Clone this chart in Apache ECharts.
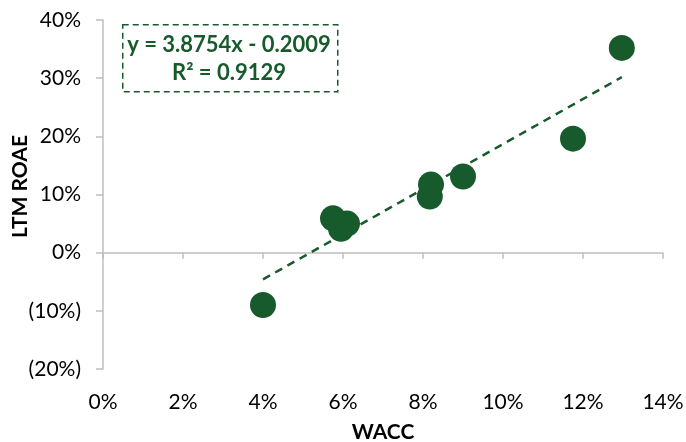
<!DOCTYPE html>
<html>
<head>
<meta charset="utf-8">
<script src="https://cdn.jsdelivr.net/npm/echarts@6/dist/echarts.min.js"></script>
<style>
  html, body { margin: 0; padding: 0; background: #fff; }
  #chart { width: 686px; height: 442px; }
</style>
</head>
<body>
<div id="chart"></div>
<script>
// WACC (%) vs LTM ROAE (%)
const waccValues = [4.0, 5.75, 5.95, 6.1, 8.17, 8.2, 9.0, 11.75, 12.97];
const roaeValues = [-9.0, 5.9, 4.1, 5.0, 9.65, 11.7, 13.1, 19.6, 35.2];
// trendline coefficients (slope, intercept in %)
const trendSlope = 3.8754;
const trendIntercept = -20.09;
const equationLines = ['y = 3.8754x - 0.2009', 'R² = 0.9129'];

const green = '#175a2c';
const font = 'Lato, "Noto Sans", sans-serif';

const points = waccValues.map((x, i) => [x, roaeValues[i]]);
const xMin = Math.min(...waccValues), xMax = Math.max(...waccValues);
const trend = [[xMin, trendSlope * xMin + trendIntercept], [xMax, trendSlope * xMax + trendIntercept]];

function pct(v) {
  return v < 0 ? '(' + Math.abs(v) + '%)' : v + '%';
}

var myChart = echarts.init(document.getElementById('chart'));

const option = {
  animation: false,
  grid: { left: 103, right: 23, top: 20, bottom: 73, outerBoundsMode: 'none', containLabel: false },
  xAxis: [
    {
      type: 'value', min: 0, max: 14, interval: 2,
      axisLine: { onZero: true, lineStyle: { color: '#bfbfbf', width: 1.5 } },
      axisTick: { show: true, length: 6, lineStyle: { color: '#bfbfbf', width: 1.5 } },
      axisLabel: { show: false },
      splitLine: { show: false }
    },
    {
      type: 'value', min: 0, max: 14, interval: 2, position: 'bottom',
      axisLine: { show: false, onZero: false },
      axisTick: { show: false },
      axisLabel: { margin: 23, fontSize: 21, color: '#000', fontFamily: font, formatter: pct },
      splitLine: { show: false },
      name: 'WACC', nameLocation: 'middle', nameGap: 53, nameMoveOverlap: false,
      nameTextStyle: { fontSize: 21, fontWeight: 'bold', color: '#000', fontFamily: font }
    }
  ],
  yAxis: {
    type: 'value', min: -20, max: 40, interval: 10,
    axisLine: { show: true, lineStyle: { color: '#bfbfbf', width: 1.5 } },
    axisTick: { show: true, length: 7, lineStyle: { color: '#bfbfbf', width: 1.5 } },
    axisLabel: { margin: 22, fontSize: 21, color: '#000', fontFamily: font, formatter: pct },
    splitLine: { show: false },
    name: 'LTM ROAE', nameLocation: 'middle', nameRotate: 90, nameGap: 72, nameMoveOverlap: false,
    nameTextStyle: { fontSize: 21, fontWeight: 'bold', color: '#000', fontFamily: font, padding: [0, 0, 0, 16] }
  },
  series: [
    {
      type: 'line', data: trend, xAxisIndex: 0, showSymbol: false, symbol: 'none',
      lineStyle: { color: green, width: 2.5, type: [8, 6] }, z: 2
    },
    {
      type: 'scatter', data: points, xAxisIndex: 0, symbolSize: 26,
      itemStyle: { color: green, opacity: 1 }, z: 3
    }
  ],
  graphic: [
    {
      type: 'rect', left: 122, top: 24,
      shape: { width: 215, height: 67 },
      style: { fill: '#fff', stroke: green, lineWidth: 1.5, lineDash: [6, 4] }
    },
    {
      type: 'text', x: 229, y: 31,
      style: {
        text: equationLines.join('\n'), textAlign: 'center',
        fill: green, font: 'bold 22px ' + font, lineHeight: 28
      }
    }
  ]
};

myChart.setOption(option);
</script>
</body>
</html>
